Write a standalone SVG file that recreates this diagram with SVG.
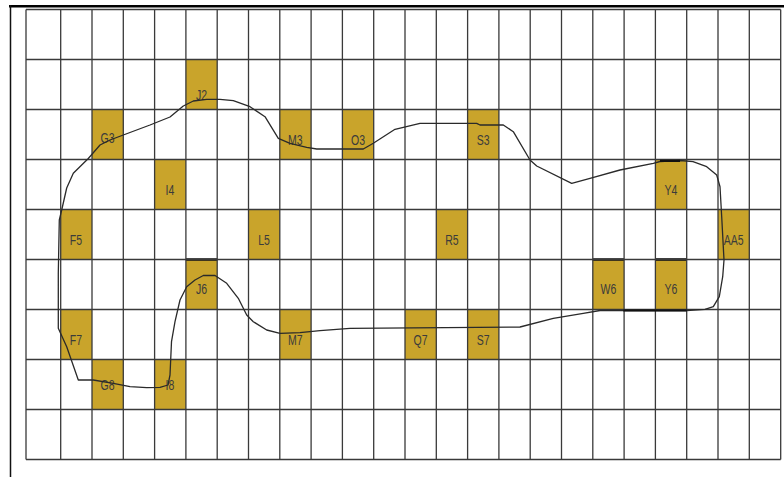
<svg xmlns="http://www.w3.org/2000/svg" width="784" height="477" viewBox="0 0 784 477">
<style>
.g{stroke:#3a3a3a;stroke-width:1.3;fill:none}
.c{fill:#C9A42B}
.t{font-family:"Liberation Sans",Arial,sans-serif;font-size:14px;fill:#3b3b3b;text-anchor:middle}
.curve{fill:none;stroke:#2a2a2a;stroke-width:1.3;stroke-linejoin:round}
.edge{stroke:#111;stroke-width:2.6}
</style>
<rect width="784" height="477" fill="#fff"/>
<g id="cells">
<g id="J2"><rect class="c" x="185.9" y="59.5" width="31.3" height="50"/><text class="t" transform="translate(201.5,100) scale(0.75,1)">J2</text></g>
<g id="G3"><rect class="c" x="92" y="109.5" width="31.3" height="50"/><text class="t" transform="translate(107.6,143) scale(0.75,1)">G3</text></g>
<g id="M3"><rect class="c" x="279.8" y="109.5" width="31.3" height="50"/><text class="t" transform="translate(295.4,145) scale(0.75,1)">M3</text></g>
<g id="O3"><rect class="c" x="342.4" y="109.5" width="31.3" height="50"/><text class="t" transform="translate(358,145) scale(0.75,1)">O3</text></g>
<g id="S3"><rect class="c" x="467.6" y="109.5" width="31.3" height="50"/><text class="t" transform="translate(483.2,145) scale(0.75,1)">S3</text></g>
<g id="I4"><rect class="c" x="154.6" y="159.5" width="31.3" height="50"/><text class="t" transform="translate(170,195) scale(0.75,1)">I4</text></g>
<g id="Y4"><rect class="c" x="655.4" y="159.5" width="31.3" height="50"/><text class="t" transform="translate(671,195) scale(0.75,1)">Y4</text></g>
<g id="F5"><rect class="c" x="60.7" y="209.5" width="31.3" height="50"/><text class="t" transform="translate(76,245) scale(0.75,1)">F5</text></g>
<g id="L5"><rect class="c" x="248.5" y="209.5" width="31.3" height="50"/><text class="t" transform="translate(264,245) scale(0.75,1)">L5</text></g>
<g id="R5"><rect class="c" x="436.3" y="209.5" width="31.3" height="50"/><text class="t" transform="translate(452,245) scale(0.75,1)">R5</text></g>
<g id="AA5"><rect class="c" x="718" y="209.5" width="31.3" height="50"/><text class="t" transform="translate(733.6,245) scale(0.75,1)">AA5</text></g>
<g id="J6"><rect class="c" x="185.9" y="259.5" width="31.3" height="50"/><line class="edge" x1="185.9" y1="259.5" x2="217.2" y2="259.5"/><text class="t" transform="translate(201.5,294) scale(0.75,1)">J6</text></g>
<g id="W6"><rect class="c" x="592.8" y="259.5" width="31.3" height="50"/><line class="edge" x1="592.8" y1="259.5" x2="624.1" y2="259.5"/><text class="t" transform="translate(608.4,294) scale(0.75,1)">W6</text></g>
<g id="Y6"><rect class="c" x="655.4" y="259.5" width="31.3" height="50"/><line class="edge" x1="655.4" y1="259.5" x2="686.7" y2="259.5"/><text class="t" transform="translate(671,294) scale(0.75,1)">Y6</text></g>
<g id="F7"><rect class="c" x="60.7" y="309.5" width="31.3" height="50"/><text class="t" transform="translate(76,345) scale(0.75,1)">F7</text></g>
<g id="M7"><rect class="c" x="279.8" y="309.5" width="31.3" height="50"/><text class="t" transform="translate(295.4,345) scale(0.75,1)">M7</text></g>
<g id="Q7"><rect class="c" x="405" y="309.5" width="31.3" height="50"/><text class="t" transform="translate(420.6,345) scale(0.75,1)">Q7</text></g>
<g id="S7"><rect class="c" x="467.6" y="309.5" width="31.3" height="50"/><text class="t" transform="translate(483.2,345) scale(0.75,1)">S7</text></g>
<g id="G8"><rect class="c" x="92" y="359.5" width="31.3" height="50"/><text class="t" transform="translate(107.6,390) scale(0.75,1)">G8</text></g>
<g id="I8"><rect class="c" x="154.6" y="359.5" width="31.3" height="50"/><text class="t" transform="translate(170,390) scale(0.75,1)">I8</text></g>
</g>
<g id="grid" class="g">
<path d="M26 9.5H780.7M26 59.5H780.7M26 109.5H780.7M26 159.5H780.7M26 209.5H780.7M26 259.5H780.7M26 309.5H780.7M26 359.5H780.7M26 409.5H780.7M26 459.5H780.7"/>
<path d="M26 9.5V459.5M60.7 9.5V459.5M92 9.5V459.5M123.3 9.5V459.5M154.6 9.5V459.5M185.9 9.5V459.5M217.2 9.5V459.5M248.5 9.5V459.5M279.8 9.5V459.5M311.1 9.5V459.5M342.4 9.5V459.5M373.7 9.5V459.5M405 9.5V459.5M436.3 9.5V459.5M467.6 9.5V459.5M498.9 9.5V459.5M530.2 9.5V459.5M561.5 9.5V459.5M592.8 9.5V459.5M624.1 9.5V459.5M655.4 9.5V459.5M686.7 9.5V459.5M718 9.5V459.5M749.3 9.5V459.5M780.7 9.5V459.5"/>
</g>
<g id="frame">
<line x1="9" y1="6.2" x2="784" y2="6.2" stroke="#000" stroke-width="2.6"/>
<line x1="10.5" y1="5" x2="10.5" y2="477" stroke="#111" stroke-width="1.5"/>
</g>
<g id="connectors">
<path class="curve" d="M59.3,220 L61.7,210 L66.7,188 L73.3,173.3 L88.3,158.5 L100,145 L110,140 L123.3,135 L150,125 L170,117 L183.3,106 L193.3,101 L206.7,99.3 L220,99.3 L233.3,100.7 L250,106.7 L265,116.7 L278.3,138.3 L290,143.3 L306.7,147.3 L316.7,149 L363.3,149 L373.3,143.3 L395,129.3 L420,123.3 L476.7,123.3 L480,125 L503.3,125 L513.3,131.7 L530,160 L536.7,166 L571.7,183.3 L590,178.3 L620,170 L653.3,163.3 L660,161.5 L680,160.5 L693,161.7 L706.7,166.7 L716.7,175 L720,186.7 L721.7,216.7 L724,260 L722.7,276.7 L719.3,296.7 L713.3,306.7 L705,309.3 L686.7,310.5 L623.3,310.5 L600,310.5 L583.3,313.3 L553.3,318.3 L520,327 L350,328.3 L320,330.7 L300,332.7 L280,333.3 L266.7,330 L253.3,321.7 L246.7,315 L238.3,298.3 L226.7,283.3 L215,275.5 L203.3,275.5 L195,280 L186.7,286.7 L180,300 L175,321.7 L171.5,341.7 L170,375 L168,385 L160,387.3 L146.7,387.7 L130,386.7 L113.3,383.3 L93.3,380 L78.3,380 L66.7,346.7 L58.3,328.3 L58.3,273 Z"/>
<path d="M623.3,310.5 H686.7 M660,160.8 H680" stroke="#111" stroke-width="2.2"/>
</g>
</svg>
